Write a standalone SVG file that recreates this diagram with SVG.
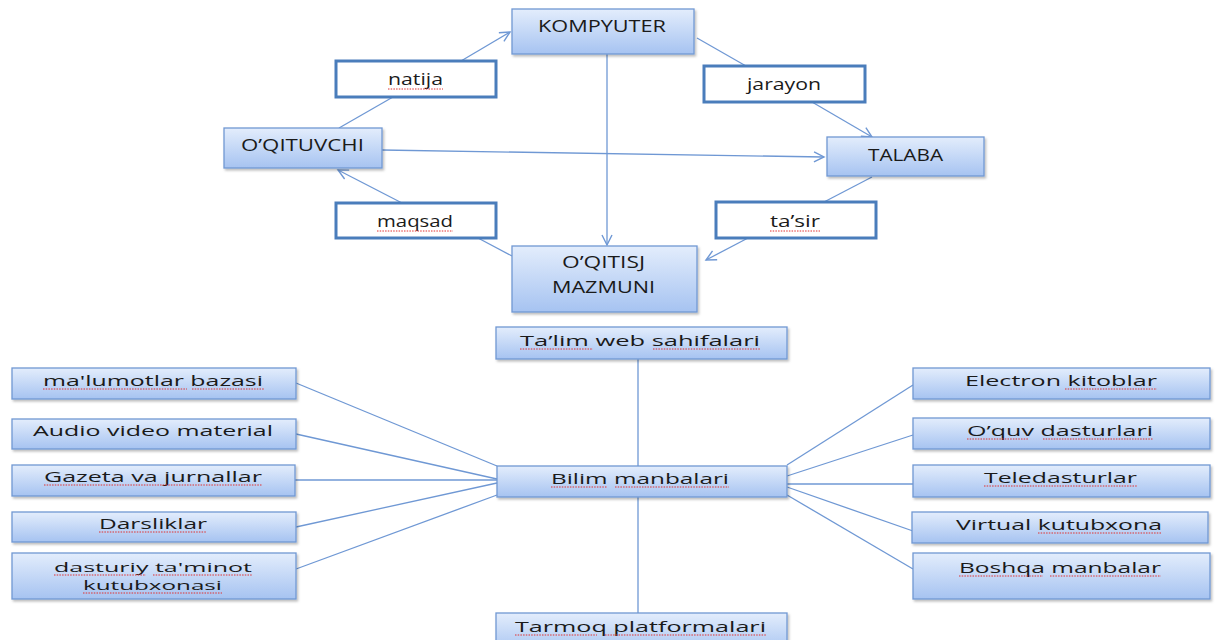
<svg xmlns="http://www.w3.org/2000/svg" width="1215" height="640" viewBox="0 0 1215 640">
<defs>
<linearGradient id="gb" x1="0" y1="0" x2="0" y2="1">
<stop offset="0" stop-color="#e3edfc"/>
<stop offset="1" stop-color="#a6c3f1"/>
</linearGradient>
<filter id="sh" x="-5%" y="-10%" width="115%" height="140%">
<feDropShadow dx="1.5" dy="2" stdDeviation="1.2" flood-color="#000" flood-opacity="0.25"/>
</filter>
<marker id="ah" markerUnits="userSpaceOnUse" markerWidth="14" markerHeight="14" refX="11" refY="6" orient="auto">
<path d="M1,1 L11,6 L1,11" fill="none" stroke="#6f98d4" stroke-width="1.4"/>
</marker>
</defs>
<style>
.bx{fill:url(#gb);stroke:#7098d3;stroke-width:1.3;filter:url(#sh)}
.lb{fill:#fff;stroke:#4a7dbb;stroke-width:3}
.t{font-family:"Open Sans","Liberation Sans",sans-serif;font-size:16px;fill:#1a1a1a;text-anchor:middle}
.s{font-family:"Open Sans","Liberation Sans",sans-serif;font-size:15px;font-weight:500;fill:#1a1a1a;text-anchor:middle}
.s2{font-size:13.5px}
.c{fill:none;stroke:#6f98d4;stroke-width:1.3}
.sq{fill:none;stroke:#e03030;stroke-width:1;stroke-dasharray:1.5 1.2}
</style>
<rect width="1215" height="640" fill="#fff"/>
<g id="connectors">
<line class="c" x1="339" y1="128" x2="393" y2="97"/>
<line class="c" x1="461" y1="61" x2="510" y2="32" marker-end="url(#ah)"/>
<line class="c" x1="697" y1="38" x2="746" y2="66"/>
<line class="c" x1="812" y1="102" x2="872" y2="137" marker-end="url(#ah)"/>
<line class="c" x1="872" y1="177" x2="824" y2="202"/>
<line class="c" x1="748" y1="238" x2="706" y2="260" marker-end="url(#ah)"/>
<line class="c" x1="512" y1="256" x2="478" y2="238"/>
<line class="c" x1="402" y1="203" x2="338" y2="170" marker-end="url(#ah)"/>
<line class="c" x1="382" y1="150" x2="824" y2="157" marker-end="url(#ah)"/>
<line class="c" x1="607" y1="54" x2="607" y2="245" marker-end="url(#ah)"/>
<line class="c" x1="638" y1="359" x2="638" y2="466"/>
<line class="c" x1="638" y1="497" x2="638" y2="613"/>
<line class="c" x1="296" y1="383" x2="497" y2="466"/>
<line class="c" x1="296" y1="434" x2="497" y2="479"/>
<line class="c" x1="295" y1="480" x2="497" y2="480"/>
<line class="c" x1="296" y1="527" x2="497" y2="483"/>
<line class="c" x1="296" y1="569" x2="497" y2="495"/>
<line class="c" x1="787" y1="465" x2="913" y2="385"/>
<line class="c" x1="787" y1="476" x2="913" y2="435"/>
<line class="c" x1="787" y1="484" x2="913" y2="484"/>
<line class="c" x1="787" y1="487" x2="913" y2="531"/>
<line class="c" x1="787" y1="495" x2="913" y2="569"/>
</g>
<g id="kompyuter"><rect class="bx" x="512" y="9" width="182" height="45"/><text class="t" x="602" y="32" textLength="128" lengthAdjust="spacingAndGlyphs">KOMPYUTER</text></g>
<g id="oqituvchi"><rect class="bx" x="224" y="128" width="158" height="40"/><text class="t" x="302.5" y="151" textLength="123" lengthAdjust="spacingAndGlyphs">O’QITUVCHI</text></g>
<g id="talaba"><rect class="bx" x="827" y="137" width="157" height="39"/><text class="t" x="905.5" y="161" textLength="75" lengthAdjust="spacingAndGlyphs">TALABA</text></g>
<g id="oqitisj"><rect class="bx" x="512" y="246" width="185" height="66"/><text class="t" x="603.5" y="268" textLength="83" lengthAdjust="spacingAndGlyphs">O’QITISJ</text><text class="t" x="603.5" y="293" textLength="103" lengthAdjust="spacingAndGlyphs">MAZMUNI</text></g>
<g id="natija"><rect class="lb" x="336" y="61" width="160" height="36"/><text class="t" x="415.5" y="85" textLength="55" lengthAdjust="spacingAndGlyphs">natija</text></g>
<g id="jarayon"><rect class="lb" x="704" y="66" width="161" height="36"/><text class="t" x="784" y="90" textLength="74" lengthAdjust="spacingAndGlyphs">jarayon</text></g>
<g id="maqsad"><rect class="lb" x="336" y="203" width="160" height="35"/><text class="t" x="415" y="227" textLength="76" lengthAdjust="spacingAndGlyphs">maqsad</text></g>
<g id="tasir"><rect class="lb" x="716" y="202" width="160" height="36"/><text class="t" x="795" y="227" textLength="50" lengthAdjust="spacingAndGlyphs">ta’sir</text></g>
<g id="talim-web"><rect class="bx" x="496" y="327" width="291" height="32"/><text class="s" x="640" y="346" textLength="240" lengthAdjust="spacingAndGlyphs">Ta’lim web sahifalari</text></g>
<g id="bilim"><rect class="bx" x="497" y="466" width="290" height="31"/><text class="s" x="640" y="484" textLength="178" lengthAdjust="spacingAndGlyphs">Bilim manbalari</text></g>
<g id="tarmoq"><rect class="bx" x="496" y="613" width="291" height="40"/><text class="s" x="640.5" y="632" textLength="251" lengthAdjust="spacingAndGlyphs">Tarmoq platformalari</text></g>
<g id="malumotlar"><rect class="bx" x="12" y="368" width="284" height="31"/><text class="s" x="153" y="386" textLength="220" lengthAdjust="spacingAndGlyphs">ma'lumotlar bazasi</text></g>
<g id="audio"><rect class="bx" x="12" y="419" width="284" height="30"/><text class="s" x="153" y="436" textLength="240" lengthAdjust="spacingAndGlyphs">Audio video material</text></g>
<g id="gazeta"><rect class="bx" x="12" y="465" width="283" height="31"/><text class="s" x="153" y="482" textLength="218" lengthAdjust="spacingAndGlyphs">Gazeta va jurnallar</text></g>
<g id="darsliklar"><rect class="bx" x="12" y="512" width="284" height="30"/><text class="s" x="153" y="529" textLength="108" lengthAdjust="spacingAndGlyphs">Darsliklar</text></g>
<g id="dasturiy"><rect class="bx" x="12" y="553" width="284" height="46"/><text class="s s2" x="153" y="572" textLength="198" lengthAdjust="spacingAndGlyphs">dasturiy ta'minot</text><text class="s s2" x="152.5" y="590" textLength="139" lengthAdjust="spacingAndGlyphs">kutubxonasi</text></g>
<g id="electron"><rect class="bx" x="913" y="368" width="297" height="31"/><text class="s" x="1061" y="386" textLength="192" lengthAdjust="spacingAndGlyphs">Electron kitoblar</text></g>
<g id="oquv"><rect class="bx" x="913" y="418" width="297" height="31"/><text class="s" x="1060" y="436" textLength="186" lengthAdjust="spacingAndGlyphs">O’quv dasturlari</text></g>
<g id="teledasturlar"><rect class="bx" x="913" y="465" width="297" height="32"/><text class="s" x="1060.5" y="483" textLength="153" lengthAdjust="spacingAndGlyphs">Teledasturlar</text></g>
<g id="virtual"><rect class="bx" x="912" y="512" width="296" height="31"/><text class="s" x="1059" y="530" textLength="206" lengthAdjust="spacingAndGlyphs">Virtual kutubxona</text></g>
<g id="boshqa"><rect class="bx" x="913" y="553" width="297" height="46"/><text class="s" x="1060" y="573" textLength="202" lengthAdjust="spacingAndGlyphs">Boshqa manbalar</text></g>
<g id="spellcheck">
<path class="sq" d="M388,89H443M377,231H453M770,231H820"/>
<path class="sq" d="M43,389H187M192,389H264M44,485H262M99,532H207M54,575H146M153,575H252M83,593H222"/>
<path class="sq" d="M520,349H593M653,349H760M551,487H607M615,487H729M515,635H597M605,635H766"/>
<path class="sq" d="M1065,389H1157M967,439H1028M1043,439H1153M984,486H1137M1038,533H1162M959,576H1043M1050,576H1161"/>
</g>
</svg>
